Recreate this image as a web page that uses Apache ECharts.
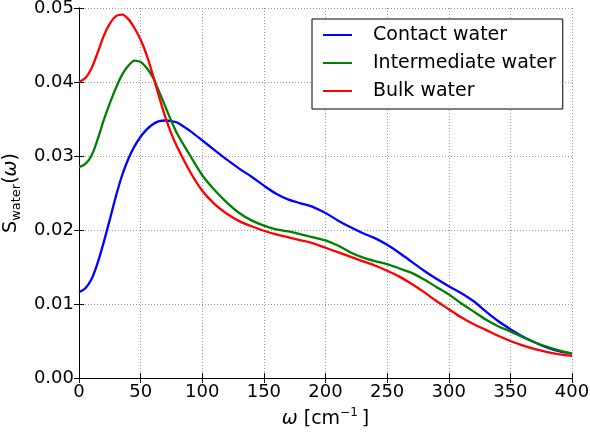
<!DOCTYPE html>
<html>
<head>
<meta charset="utf-8">
<script src="https://cdn.jsdelivr.net/npm/echarts@6/dist/echarts.min.js"></script>
<style>
html,body{margin:0;padding:0;background:#fff;}
#chart{width:590px;height:434px;}
</style>
</head>
<body>
<div id="chart"></div>
<script>
var omega = [0,5,10,15,20,25,30,35,40,45,50,55,60,65,70,75,80,90,100,110,120,130,140,150,160,170,180,190,200,210,220,230,240,250,260,270,280,290,300,310,320,330,340,350,360,370,380,390,400];
var contactWater = [0.0116,0.0121,0.0133,0.0155,0.0183,0.0214,0.0246,0.0274,0.0296,0.0313,0.0326,0.0336,0.0343,0.0347,0.0348,0.0347,0.0345,0.0334,0.0321,0.0308,0.0295,0.0283,0.0272,0.0260,0.0249,0.0241,0.0236,0.0231,0.0223,0.0213,0.0204,0.0196,0.0189,0.0180,0.0169,0.0157,0.0145,0.0134,0.0124,0.0115,0.0104,0.0090,0.0077,0.0066,0.0056,0.0048,0.0041,0.0036,0.0033];
var intermediateWater = [0.0285,0.0289,0.0300,0.0322,0.0348,0.0371,0.0392,0.0410,0.0422,0.0429,0.0427,0.0419,0.0406,0.0387,0.0367,0.0347,0.0329,0.0301,0.0274,0.0254,0.0237,0.0223,0.0213,0.0206,0.0201,0.0198,0.0194,0.0190,0.0186,0.0179,0.0170,0.0163,0.0158,0.0154,0.0148,0.0142,0.0133,0.0123,0.0113,0.0101,0.0090,0.0079,0.0070,0.0063,0.0055,0.0048,0.0042,0.0037,0.0033];
var bulkWater = [0.0400,0.0405,0.0418,0.0439,0.0462,0.0479,0.0489,0.0491,0.0485,0.0473,0.0457,0.0436,0.0409,0.0380,0.0353,0.0330,0.0311,0.0279,0.0253,0.0235,0.0222,0.0212,0.0205,0.0199,0.0194,0.0190,0.0186,0.0182,0.0176,0.0170,0.0164,0.0158,0.0152,0.0145,0.0137,0.0127,0.0116,0.0104,0.0093,0.0082,0.0073,0.0065,0.0057,0.0050,0.0044,0.0039,0.0035,0.0032,0.0030];
var seriesNames = ['Contact water','Intermediate water','Bulk water'];
var seriesColors = ['#0000ff','#008000','#ff0000'];
var xTicks = [0,50,100,150,200,250,300,350,400];
var yTicks = [0.00,0.01,0.02,0.03,0.04,0.05];

function pairs(vals){ return omega.map(function(x,i){ return [x, vals[i]]; }); }
var allVals = [contactWater, intermediateWater, bulkWater];

var font = 'DejaVu Sans';
var chart = echarts.init(document.getElementById('chart'), null, {renderer:'canvas'});
var axisLine = {show:true, lineStyle:{color:'#000', width:1}};
var tick = {show:true, inside:true, length:5, lineStyle:{color:'#000', width:1}};
var grid = {show:true, lineStyle:{color:'#999', type:[1,2], width:1}};

var option = {
  animation:false,
  backgroundColor:'#fff',
  grid:{left:79, right:18, top:8, bottom:56, containLabel:false, outerBoundsMode:'none'},
  legend:{
    orient:'vertical', left:312, top:19,
    data:seriesNames,
    icon:'rect', itemWidth:29, itemHeight:2,
    itemGap:6,
    borderColor:'#000', borderWidth:1,
    padding:[5,7,7,11],
    backgroundColor:'#fff',
    textStyle:{fontFamily:font, fontSize:19, color:'#000', padding:[0,0,0,16], lineHeight:22}
  },
  xAxis:[{
    type:'value', min:0, max:400, interval:50, position:'bottom',
    axisLine:axisLine, axisTick:tick, splitLine:grid,
    axisLabel:{fontFamily:font, fontSize:18, color:'#000', margin:5,
      formatter:function(v){ return xTicks.indexOf(v)>=0 ? String(v) : ''; }},
    name:'{it|ω} [cm{sup|−1}]',
    nameLocation:'middle', nameGap:29,
    nameTextStyle:{fontFamily:font, fontSize:19, color:'#000',
      rich:{it:{fontFamily:font, fontSize:19, fontStyle:'italic', color:'#000'},
            sup:{fontFamily:font, fontSize:12, color:'#000', padding:[0,4,12,0]}}}
  },{
    type:'value', min:0, max:400, interval:50, position:'top',
    axisLine:axisLine, axisTick:tick, splitLine:{show:false}, axisLabel:{show:false}
  }],
  yAxis:[{
    type:'value', min:0, max:0.05, interval:0.01, position:'left',
    axisLine:axisLine, axisTick:tick, splitLine:grid,
    axisLabel:{fontFamily:font, fontSize:18, color:'#000', margin:5,
      formatter:function(v){ var i = Math.round(v*100); return yTicks[i]!==undefined ? yTicks[i].toFixed(2) : ''; }},
    name:'S{sub|water}({it|ω})',
    nameLocation:'middle', nameGap:52, nameRotate:90,
    nameTextStyle:{fontFamily:font, fontSize:19, color:'#000',
      rich:{sub:{fontFamily:font, fontSize:13, color:'#000', padding:[10,0,0,0]},
            it:{fontFamily:font, fontSize:19, fontStyle:'italic', color:'#000'}}}
  },{
    type:'value', min:0, max:0.05, interval:0.01, position:'right',
    axisLine:axisLine, axisTick:tick, splitLine:{show:false}, axisLabel:{show:false}
  }],
  series: seriesNames.map(function(n,i){
    return {
      name:n, type:'line', data:pairs(allVals[i]),
      xAxisIndex:0, yAxisIndex:0,
      showSymbol:false, symbol:'none', smooth:0.3,
      lineStyle:{color:seriesColors[i], width:2.3},
      itemStyle:{color:seriesColors[i]},
      z:3+i
    };
  })
};
chart.setOption(option);
</script>
</body>
</html>
